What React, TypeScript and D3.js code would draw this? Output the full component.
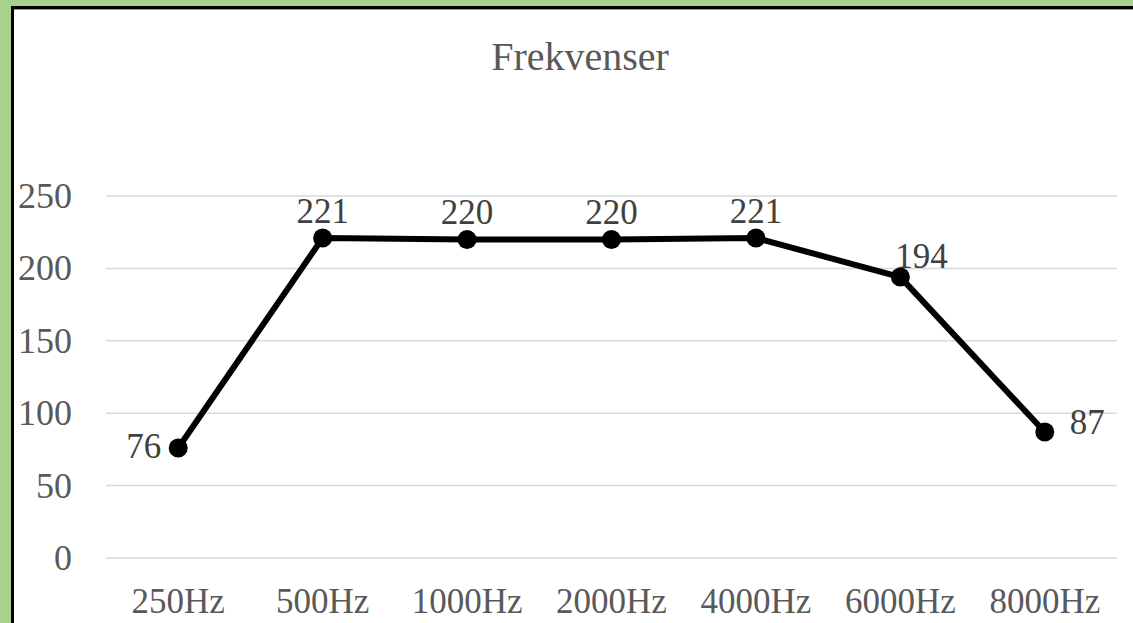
import React from "react";
import * as d3 from "d3";

const categories = ["250Hz", "500Hz", "1000Hz", "2000Hz", "4000Hz", "6000Hz", "8000Hz"];
const values = [76, 221, 220, 220, 221, 194, 87];
const yTicks = [0, 50, 100, 150, 200, 250];
const title = "Frekvenser";
// label placement per point: [dx, dy, anchor]
const labelPlacement: [number, number, string][] = [
  [-17, 10, "end"],
  [0, -15, "middle"],
  [0, -15, "middle"],
  [0, -15, "middle"],
  [0, -15, "middle"],
  [-5, -9, "start"],
  [25, 2, "start"],
];

const W = 1133;
const H = 623;
const FONT = "'Liberation Serif', 'Times New Roman', serif";

export default function App() {
  const x = d3.scaleBand<string>().domain(categories).range([106, 1117]);
  const y = d3.scaleLinear().domain([0, 250]).range([558, 196]);
  const line = d3
    .line<number>()
    .x((_, i) => (x(categories[i]) as number) + x.bandwidth() / 2)
    .y((d) => y(d));

  return (
    <div style={{ position: "absolute", left: 0, top: 0 }}>
      <svg width={W} height={H} style={{ display: "block" }}>
        <rect x={0} y={0} width={W} height={H} fill="#A9D18E" />
        <rect x={14} y={9} width={W} height={H} fill="#ffffff" />
        <line x1={12.5} y1={6} x2={12.5} y2={H} stroke="#000" strokeWidth={3} />
        <line x1={11} y1={7.5} x2={W} y2={7.5} stroke="#000" strokeWidth={3} />
        <line x1={14} y1={9.5} x2={W} y2={9.5} stroke="#999" strokeWidth={1} />
        <text x={580} y={70} textAnchor="middle" fontFamily={FONT} fontSize={40} fill="#595959">
          {title}
        </text>
        {yTicks.map((t) => (
          <g key={t}>
            <line x1={106} x2={1117} y1={y(t)} y2={y(t)} stroke="#d9d9d9" strokeWidth={1.5} />
            <text x={72} y={y(t) + 12} textAnchor="end" fontFamily={FONT} fontSize={36} fill="#595959">
              {t}
            </text>
          </g>
        ))}
        {categories.map((c) => (
          <text
            key={c}
            x={(x(c) as number) + x.bandwidth() / 2}
            y={613}
            textAnchor="middle"
            fontFamily={FONT}
            fontSize={35}
            fill="#595959"
          >
            {c}
          </text>
        ))}
        <path d={line(values) || ""} fill="none" stroke="#000" strokeWidth={6} strokeLinejoin="round" />
        {values.map((v, i) => {
          const cx = (x(categories[i]) as number) + x.bandwidth() / 2;
          const cy = y(v);
          const [dx, dy, anchor] = labelPlacement[i];
          return (
            <g key={i}>
              <circle cx={cx} cy={cy} r={9.5} fill="#000" />
              <text
                x={cx + dx}
                y={cy + dy}
                textAnchor={anchor as any}
                fontFamily={FONT}
                fontSize={35}
                fill="#404040"
              >
                {v}
              </text>
            </g>
          );
        })}
      </svg>
    </div>
  );
}
